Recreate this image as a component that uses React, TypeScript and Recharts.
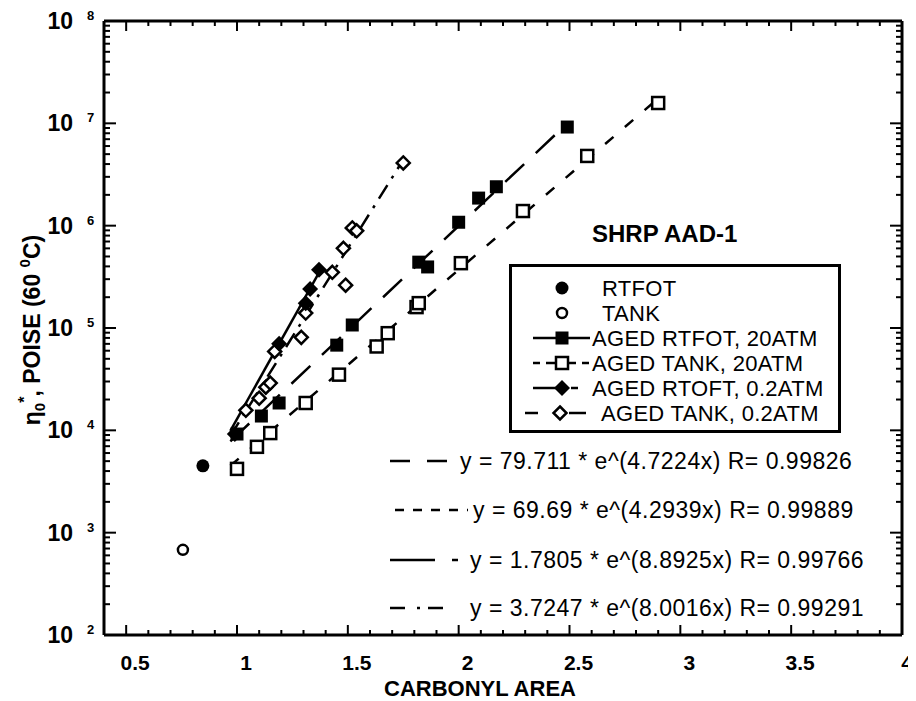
import React from 'react';
import { ComposedChart, Scatter, Line, XAxis, YAxis, Legend, Customized } from 'recharts';

// carbonyl area (x) vs zero shear viscosity, poise at 60 C (y)
const rtfot = [{ x: 0.846, y: 4500 }];
const tank = [{ x: 0.756, y: 680 }];

const agedRtfot20 = [
  { x: 1.0, y: 9200 }, { x: 1.11, y: 13800 }, { x: 1.19, y: 18500 }, { x: 1.45, y: 68000 },
  { x: 1.52, y: 107000 }, { x: 1.82, y: 440000 }, { x: 1.86, y: 395000 }, { x: 2.0, y: 1080000 },
  { x: 2.09, y: 1860000 }, { x: 2.17, y: 2400000 }, { x: 2.49, y: 9200000 },
];
const agedTank20 = [
  { x: 1.0, y: 4200 }, { x: 1.09, y: 6900 }, { x: 1.15, y: 9400 }, { x: 1.31, y: 18500 },
  { x: 1.46, y: 35000 }, { x: 1.63, y: 66000 }, { x: 1.68, y: 89000 }, { x: 1.81, y: 160000 },
  { x: 1.82, y: 175000 }, { x: 2.01, y: 430000 }, { x: 2.29, y: 1390000 }, { x: 2.58, y: 4800000 },
  { x: 2.9, y: 15800000 },
];
const agedRtoft02 = [
  { x: 0.99, y: 9200 }, { x: 1.19, y: 70000 }, { x: 1.31, y: 175000 }, { x: 1.33, y: 240000 },
  { x: 1.37, y: 370000 },
];
const agedTank02 = [
  { x: 1.04, y: 15700 }, { x: 1.1, y: 20600 }, { x: 1.13, y: 26400 }, { x: 1.15, y: 29000 },
  { x: 1.17, y: 59000 }, { x: 1.29, y: 81000 }, { x: 1.31, y: 140000 }, { x: 1.43, y: 350000 },
  { x: 1.49, y: 262000 }, { x: 1.48, y: 600000 }, { x: 1.52, y: 950000 }, { x: 1.54, y: 890000 },
  { x: 1.75, y: 4100000 },
];

// fitted lines, end points
const fitRtfot20 = [{ x: 0.97, y: 7800 }, { x: 2.49, y: 10000000 }];
const fitTank20 = [{ x: 0.97, y: 4500 }, { x: 2.9, y: 17500000 }];
const fitRtoft02 = [{ x: 0.97, y: 9900 }, { x: 1.38, y: 380000 }];
const fitTank02 = [{ x: 0.97, y: 8800 }, { x: 1.75, y: 4400000 }];

const legendNames = ['RTFOT', 'TANK', 'AGED RTFOT, 20ATM', 'AGED TANK, 20ATM', 'AGED RTOFT, 0.2ATM', 'AGED TANK, 0.2ATM'];
const equations = [
  'y = 79.711 * e^(4.7224x) R= 0.99826',
  'y = 69.69 * e^(4.2939x) R= 0.99889',
  'y = 1.7805 * e^(8.8925x) R= 0.99766',
  'y = 3.7247 * e^(8.0016x) R= 0.99291',
];
const xMajor = [0.5, 1, 1.5, 2, 2.5, 3, 3.5, 4];
const yDecades = [2, 3, 4, 5, 6, 7, 8];

const xTicks: number[] = [];
for (let i = 4; i <= 40; i++) xTicks.push(i / 10);
const yTicks: number[] = [];
yDecades.forEach((d) => {
  yTicks.push(Math.pow(10, d));
  if (d < 8) for (let k = 2; k <= 9; k++) yTicks.push(k * Math.pow(10, d));
});

const FONT = "'Liberation Sans', Arial, Helvetica, sans-serif";
const NARROW = "'Liberation Sans Narrow', 'Arial Narrow', 'Liberation Sans', sans-serif";
const SW = 2.5;

const isMajorX = (v: number) => xMajor.some((m) => Math.abs(m - v) < 1e-6);
const isMajorY = (v: number) => Math.abs(Math.log10(v) - Math.round(Math.log10(v))) < 1e-6;

const BottomTick = (p: any) => {
  const major = isMajorX(p.payload.value);
  return (
    <g>
      <line x1={p.x} x2={p.x} y1={p.y} y2={p.y - (major ? 10 : 5)} stroke="#000" strokeWidth={2} />
      {major && (
        <text x={Math.min(p.x + 9, 899)} y={p.y + 35} textAnchor="middle" fontFamily={NARROW} fontWeight="bold" fontSize={21} fill="#000">
          {String(p.payload.value)}
        </text>
      )}
    </g>
  );
};
const TopTick = (p: any) => {
  const major = isMajorX(p.payload.value);
  return <line x1={p.x} x2={p.x} y1={p.y} y2={p.y + (major ? 10 : 5)} stroke="#000" strokeWidth={2} />;
};
const LeftTick = (p: any) => {
  const v = p.payload.value;
  const major = isMajorY(v);
  return (
    <g>
      <line x1={p.x} x2={p.x + (major ? 12 : 6)} y1={p.y} y2={p.y} stroke="#000" strokeWidth={2} />
      {major && (
        <g fontFamily={FONT} fontWeight="bold" fill="#000">
          <text x={p.x - 31} y={p.y + 8} textAnchor="end" fontSize={23}>10</text>
          <text x={p.x - 17} y={p.y - 1} fontSize={13}>{Math.round(Math.log10(v))}</text>
        </g>
      )}
    </g>
  );
};
const RightTick = (p: any) => {
  const major = isMajorY(p.payload.value);
  return <line x1={p.x} x2={p.x - (major ? 12 : 6)} y1={p.y} y2={p.y} stroke="#000" strokeWidth={2} />;
};

const FilledCircle = (p: any) => <circle cx={p.cx} cy={p.cy} r={6.5} fill="#000" />;
const OpenCircle = (p: any) => <circle cx={p.cx} cy={p.cy} r={5} fill="#fff" stroke="#000" strokeWidth={SW} />;
const FilledSquare = (p: any) => <rect x={p.cx - 6.5} y={p.cy - 6.5} width={13} height={13} fill="#000" />;
const OpenSquare = (p: any) => (
  <rect x={p.cx - 6} y={p.cy - 6} width={12} height={12} fill="#fff" stroke="#000" strokeWidth={SW} />
);
const diamond = (cx: number, cy: number, r: number) => `M${cx},${cy - r}L${cx + r},${cy}L${cx},${cy + r}L${cx - r},${cy}Z`;
const FilledDiamond = (p: any) => <path d={diamond(p.cx, p.cy, 8)} fill="#000" />;
const OpenDiamond = (p: any) => <path d={diamond(p.cx, p.cy, 6.5)} fill="#fff" stroke="#000" strokeWidth={SW} />;

const DASH_RTFOT20 = '26 16';
const DASH_TANK20 = '11 15';
const DASH_TANK02 = '16 8 3 8';

const LegendBox = () => {
  const rows = [24, 49, 74, 99, 124, 149];
  const sx = 53;
  const seg = (x1: number, x2: number, y: number) => (
    <line x1={x1} x2={x2} y1={y} y2={y} stroke="#000" strokeWidth={SW} />
  );
  const textX = [93, 93, 83, 83, 83, 92];
  return (
    <svg width={332} height={170} style={{ display: 'block' }}>
      <rect x={1.5} y={1.5} width={329} height={166} fill="#fff" stroke="#000" strokeWidth={3} />
      <FilledCircle cx={sx} cy={rows[0]} />
      <OpenCircle cx={sx} cy={rows[1]} />
      {seg(24, 81, rows[2])}
      <FilledSquare cx={sx} cy={rows[2]} />
      {seg(24, 31, rows[3])}
      {seg(37, 46, rows[3])}
      {seg(60, 67, rows[3])}
      {seg(73, 80, rows[3])}
      <OpenSquare cx={sx} cy={rows[3]} />
      {seg(24, sx, rows[4])}
      {seg(62, 69, rows[4])}
      <FilledDiamond cx={sx} cy={rows[4]} />
      {seg(16, 29, rows[5])}
      {seg(60, 77, rows[5])}
      <OpenDiamond cx={51} cy={rows[5]} />
      {legendNames.map((n, i) => (
        <text key={n} x={textX[i]} y={rows[i] + 8} fontFamily={FONT} fontSize={22} letterSpacing={0.3} fill="#000">
          {n}
        </text>
      ))}
    </svg>
  );
};

const Notes = () => {
  const ey = [453, 502, 552, 600];
  const ex = [452, 465, 462, 462];
  const samples = [
    { x1: 382, x2: 439, dash: '20 17' },
    { x1: 387, x2: 460, dash: '9 9' },
    { x1: 382, x2: 450, dash: '45 17 6' },
    { x1: 382, x2: 435, dash: '15 12 3 8 15' },
  ];
  return (
    <g fill="#000">
      <text x={584} y={234} fontFamily={FONT} fontWeight="bold" fontSize={24}>SHRP AAD-1</text>
      {equations.map((e, i) => (
        <g key={e}>
          <line x1={samples[i].x1} x2={samples[i].x2} y1={ey[i]} y2={ey[i]} stroke="#000" strokeWidth={SW} strokeDasharray={samples[i].dash} />
          <text x={ex[i]} y={ey[i] + 8} fontFamily={FONT} fontSize={23} letterSpacing={0.5}>{e}</text>
        </g>
      ))}
      <text x={472} y={688} textAnchor="middle" fontFamily={NARROW} fontWeight="bold" fontSize={22}>CARBONYL AREA</text>
      <text transform="translate(32,322) rotate(-90)" textAnchor="middle" fontFamily={FONT} fontWeight="bold" fontSize={23}>
        η<tspan fontSize={15} dy={5}>0</tspan>
        <tspan fontSize={16} dy={-15}>*</tspan>
        <tspan dy={10}>, POISE (60 </tspan>
        <tspan fontSize={15} dy={-10}>0</tspan>
        <tspan dy={10}>C)</tspan>
      </text>
    </g>
  );
};

export default function App() {
  return (
    <ComposedChart width={908} height={693} margin={{ top: 12, right: 13, bottom: 65, left: 95 }}>
      <XAxis xAxisId="b" type="number" dataKey="x" domain={[0.4, 4]} ticks={xTicks} interval={0}
        allowDataOverflow height={1} tickSize={0} tickMargin={0} tick={<BottomTick />}
        axisLine={{ stroke: '#000', strokeWidth: 3 }} />
      <XAxis xAxisId="t" orientation="top" type="number" dataKey="x" domain={[0.4, 4]} ticks={xTicks} interval={0}
        allowDataOverflow height={1} tickSize={0} tickMargin={0} tick={<TopTick />}
        axisLine={{ stroke: '#000', strokeWidth: 3 }} />
      <YAxis yAxisId="l" type="number" scale="log" domain={[100, 100000000]} ticks={yTicks} interval={0}
        allowDataOverflow width={1} tickSize={0} tickMargin={0} tick={<LeftTick />}
        axisLine={{ stroke: '#000', strokeWidth: 3 }} />
      <YAxis yAxisId="r" orientation="right" type="number" scale="log" domain={[100, 100000000]} ticks={yTicks} interval={0}
        allowDataOverflow width={1} tickSize={0} tickMargin={0} tick={<RightTick />}
        axisLine={{ stroke: '#000', strokeWidth: 3 }} />

      <Scatter xAxisId="b" yAxisId="l" data={rtfot} dataKey="y" shape={<FilledCircle />} isAnimationActive={false} />
      <Scatter xAxisId="b" yAxisId="l" data={tank} dataKey="y" shape={<OpenCircle />} isAnimationActive={false} />
      <Scatter xAxisId="b" yAxisId="l" data={agedTank20} dataKey="y" shape={<OpenSquare />} isAnimationActive={false} />
      <Scatter xAxisId="b" yAxisId="l" data={agedTank02} dataKey="y" shape={<OpenDiamond />} isAnimationActive={false} />
      <Scatter xAxisId="b" yAxisId="l" data={agedRtfot20} dataKey="y" shape={<FilledSquare />} isAnimationActive={false} />
      <Scatter xAxisId="b" yAxisId="l" data={agedRtoft02} dataKey="y" shape={<FilledDiamond />} isAnimationActive={false} />

      <Line xAxisId="b" yAxisId="l" data={fitRtfot20} dataKey="y" type="linear" stroke="#000" strokeWidth={SW}
        strokeDasharray={DASH_RTFOT20} dot={false} activeDot={false} isAnimationActive={false} />
      <Line xAxisId="b" yAxisId="l" data={fitTank20} dataKey="y" type="linear" stroke="#000" strokeWidth={SW}
        strokeDasharray={DASH_TANK20} dot={false} activeDot={false} isAnimationActive={false} />
      <Line xAxisId="b" yAxisId="l" data={fitRtoft02} dataKey="y" type="linear" stroke="#000" strokeWidth={SW}
        dot={false} activeDot={false} isAnimationActive={false} />
      <Line xAxisId="b" yAxisId="l" data={fitTank02} dataKey="y" type="linear" stroke="#000" strokeWidth={SW}
        strokeDasharray={DASH_TANK02} dot={false} activeDot={false} isAnimationActive={false} />

      <Legend layout="horizontal" verticalAlign="middle" content={() => <LegendBox />}
        wrapperStyle={{ left: 501, top: 256, width: 332, height: 170 }} />
      <Customized component={Notes} />
    </ComposedChart>
  );
}
